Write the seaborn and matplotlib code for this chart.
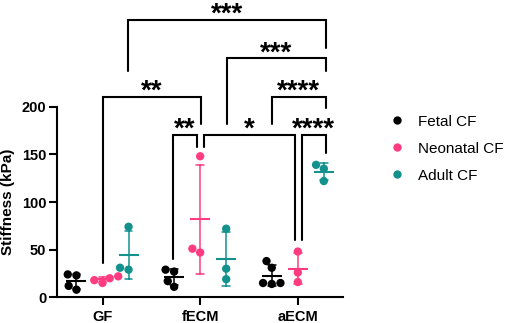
import numpy as np
import pandas as pd
import matplotlib
matplotlib.use("Agg")
import matplotlib.pyplot as plt
import seaborn as sns

# stiffness values (kPa)
conditions = ["GF", "fECM", "aECM"]
cell_types = ["Fetal CF", "Neonatal CF", "Adult CF"]

fetal_gf = [23, 24, 8, 12]
neonatal_gf = [22, 20, 15, 18]
adult_gf = [74, 29, 31]
fetal_fecm = [27, 29, 11, 17]
neonatal_fecm = [148, 47, 51]
adult_fecm = [72, 30, 19]
fetal_aecm = [38, 31, 15, 14, 15]
neonatal_aecm = [48, 26, 16]
adult_aecm = [139, 135, 122]

colors = ["#000000", "#FF3C7F", "#13918D"]

# significance brackets: x left, x right, bar height, left leg end, right leg end, label
brackets = [
    (0.264, 2.285, 291, 237.5, 262, "***"),
    (1.271, 2.285, 251, 182, 237.5, "***"),
    (1.732, 2.285, 210.5, 182, 198.6, "****"),
    (0.002, 1.005, 210.5, 36, 182, "**"),
    (0.725, 0.964, 170.3, 40, 158, "**"),
    (1.039, 1.970, 170.3, 158, 60, "*"),
    (2.039, 2.285, 170.3, 60, 151.4, "****"),
]

groups = {
    ("GF", "Fetal CF"): fetal_gf, ("GF", "Neonatal CF"): neonatal_gf, ("GF", "Adult CF"): adult_gf,
    ("fECM", "Fetal CF"): fetal_fecm, ("fECM", "Neonatal CF"): neonatal_fecm, ("fECM", "Adult CF"): adult_fecm,
    ("aECM", "Fetal CF"): fetal_aecm, ("aECM", "Neonatal CF"): neonatal_aecm, ("aECM", "Adult CF"): adult_aecm,
}
rows = []
for (cond, cell), vals in groups.items():
    for v in vals:
        rows.append({"Condition": cond, "Cell": cell, "Stiffness": v})
df = pd.DataFrame(rows)

sns.set_style("ticks")
plt.rcParams["font.family"] = ["Liberation Sans", "DejaVu Sans"]
plt.rcParams["text.color"] = "black"
plt.rcParams["axes.labelcolor"] = "black"
plt.rcParams["axes.edgecolor"] = "black"
plt.rcParams["xtick.color"] = "black"
plt.rcParams["ytick.color"] = "black"

fig = plt.figure(figsize=(5.05, 3.23), dpi=100)
ax = fig.add_axes([57 / 505, 25.7 / 323, 286.3 / 505, 190.6 / 323])

pal = dict(zip(cell_types, colors))
sns.swarmplot(data=df, x="Condition", y="Stiffness", hue="Cell", order=conditions,
              hue_order=cell_types, palette=pal, dodge=True, size=6, linewidth=0, ax=ax)
sns.pointplot(data=df, x="Condition", y="Stiffness", hue="Cell", order=conditions,
              hue_order=cell_types, palette=pal, dodge=0.8 * 2 / 3, errorbar="sd",
              capsize=0.08, marker="_", markersize=14, markeredgewidth=1.5,
              linestyle="none", err_kws={"linewidth": 1.1}, legend=False, ax=ax)

ax.set_xlim(-0.466, 2.466)
ax.set_ylim(0, 200)
ax.set_yticks([0, 50, 100, 150, 200])
ax.set_xlabel("")
ax.set_ylabel("Stiffness (kPa)", fontsize=11, fontweight="bold", labelpad=5)
for s in ["top", "right"]:
    ax.spines[s].set_visible(False)
for s in ["left", "bottom"]:
    ax.spines[s].set_linewidth(1.5)
ax.tick_params(axis="both", length=5.8, width=1.5, labelsize=10.5)
ax.tick_params(axis="y", pad=2)
ax.tick_params(axis="x", pad=3)
for lab in ax.get_xticklabels() + ax.get_yticklabels():
    lab.set_fontweight("bold")

# brackets
for x1, x2, y, y1, y2, lab in brackets:
    ax.plot([x1, x1, x2, x2], [y1, y, y, y2], color="black", lw=1.5, clip_on=False,
            solid_joinstyle="miter")
    ax.annotate(lab, xy=((x1 + x2) / 2, y), xytext=(0, -1.5), textcoords="offset points",
                ha="center", va="baseline", fontsize=20, fontweight="bold",
                annotation_clip=False)

handles, labels = ax.get_legend_handles_labels()
ax.legend(handles[:3], labels[:3], loc="upper left", bbox_to_anchor=(389 / 505, 0.645),
          bbox_transform=fig.transFigure, frameon=False, fontsize=11, borderpad=0,
          handlelength=1.0, handletextpad=0.9, labelspacing=0.85, borderaxespad=0)

fig.savefig("out.png", dpi=100)
